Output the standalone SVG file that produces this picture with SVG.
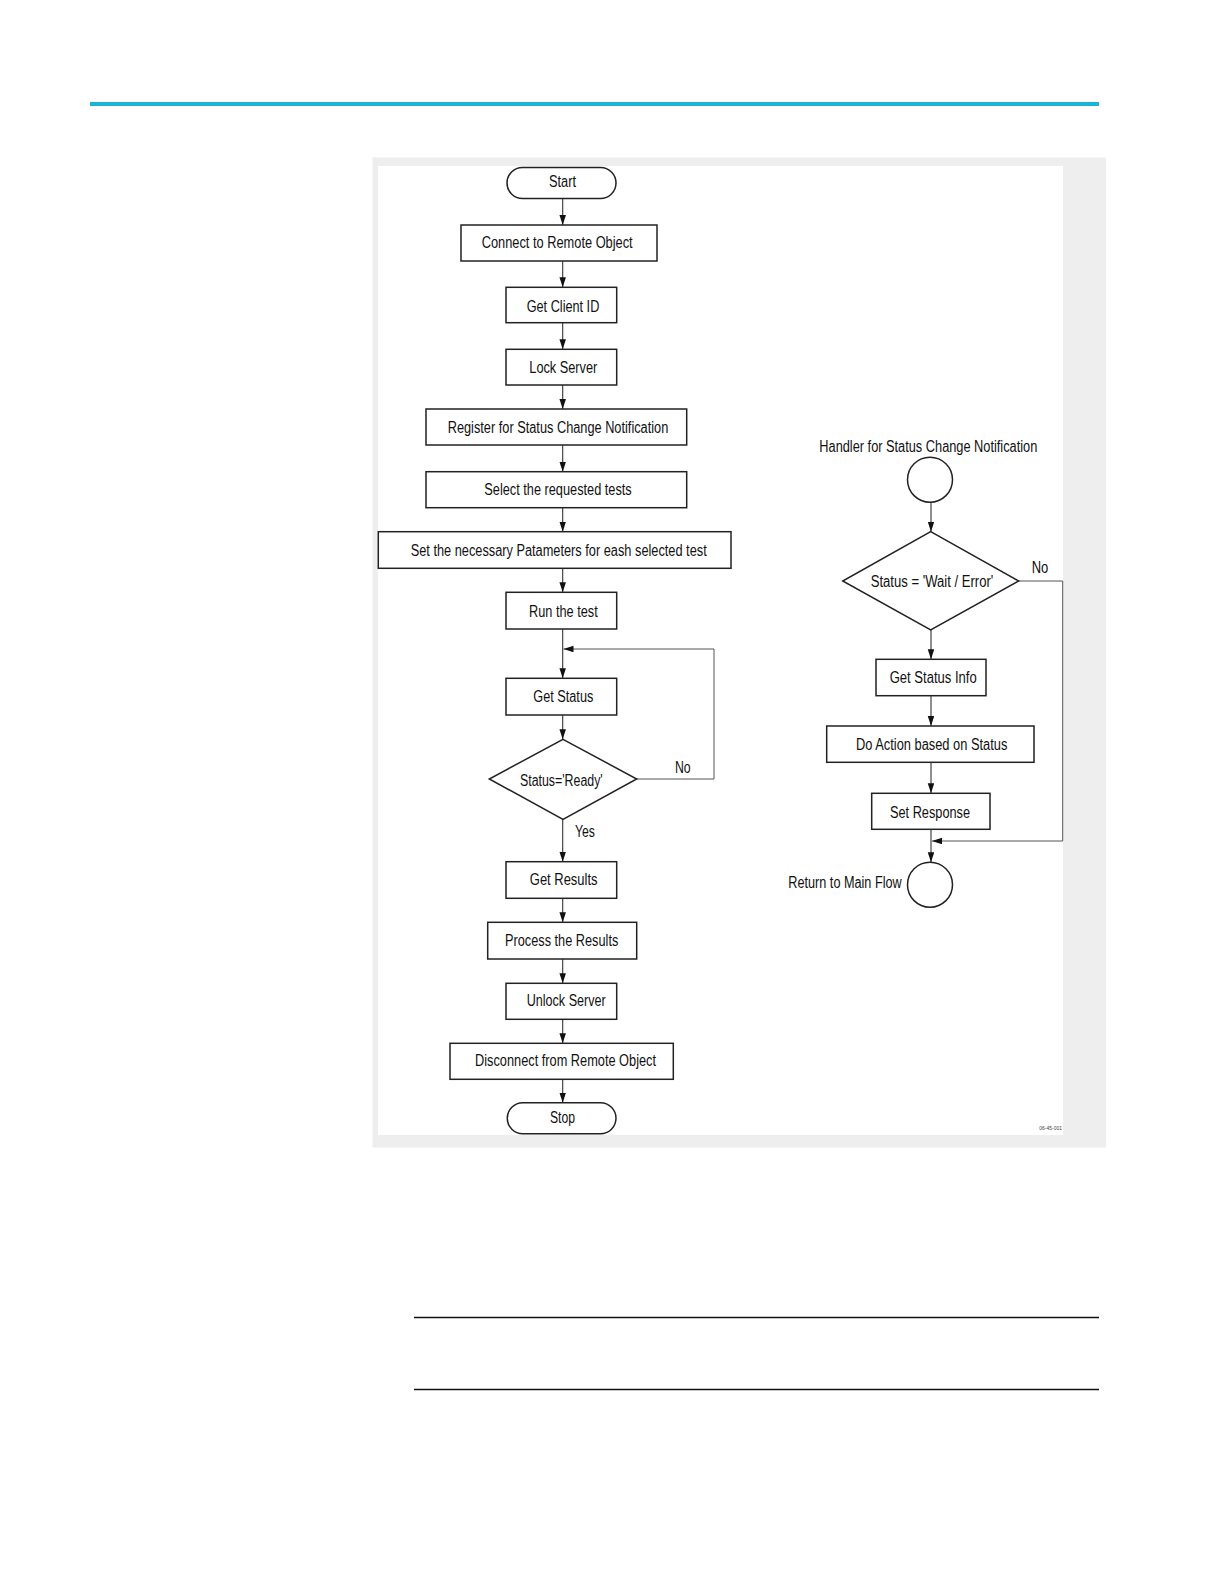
<svg xmlns="http://www.w3.org/2000/svg" width="1225" height="1585" viewBox="0 0 1225 1585">
<style>
.box{fill:#fff;stroke:#222;stroke-width:1.5}
.t{font-family:"Liberation Sans",Arial,sans-serif;font-size:16px;fill:#111}
.c{stroke:#333;stroke-width:1.1;fill:none}
.lp{stroke:#555;stroke-width:1;fill:none}
</style>
<defs>
<marker id="ah" markerUnits="userSpaceOnUse" markerWidth="11" markerHeight="8" refX="10" refY="3.25" orient="auto">
<path d="M0,0 L10,3.25 L0,6.5 Z" fill="#111"/>
</marker>
</defs>
<rect width="1225" height="1585" fill="#fff"/>
<line x1="90" y1="104" x2="1099" y2="104" stroke="#1bb3d6" stroke-width="4"/>
<rect x="372.5" y="157.5" width="733.5" height="990" fill="#eeeeee"/>
<rect x="378" y="166" width="685" height="969" fill="#fff"/>
<line x1="414" y1="1317.5" x2="1099" y2="1317.5" stroke="#111" stroke-width="1.3"/>
<line x1="414" y1="1389.5" x2="1099" y2="1389.5" stroke="#111" stroke-width="1.3"/>
<text x="1062" y="1130" font-family="Liberation Sans,Arial,sans-serif" font-size="5" text-anchor="end" fill="#444">06-45-001</text>

<g id="connectors">
<line class="c" x1="562.7" y1="198.5" x2="562.7" y2="225" marker-end="url(#ah)"/>
<line class="c" x1="562.7" y1="261" x2="562.7" y2="287.3" marker-end="url(#ah)"/>
<line class="c" x1="562.7" y1="322.7" x2="562.7" y2="349.3" marker-end="url(#ah)"/>
<line class="c" x1="562.7" y1="385" x2="562.7" y2="409" marker-end="url(#ah)"/>
<line class="c" x1="562.7" y1="445" x2="562.7" y2="471.7" marker-end="url(#ah)"/>
<line class="c" x1="562.7" y1="507.7" x2="562.7" y2="531.7" marker-end="url(#ah)"/>
<line class="c" x1="562.7" y1="568.3" x2="562.7" y2="592.3" marker-end="url(#ah)"/>
<line class="c" x1="562.7" y1="629" x2="562.7" y2="678.3" marker-end="url(#ah)"/>
<line class="c" x1="562.7" y1="715" x2="562.7" y2="739.3" marker-end="url(#ah)"/>
<polyline class="lp" points="636.7,779 714,779 714,649 563.5,649" marker-end="url(#ah)"/>
<line class="c" x1="562.7" y1="819.3" x2="562.7" y2="861.7" marker-end="url(#ah)"/>
<line class="c" x1="562.7" y1="898.3" x2="562.7" y2="922.3" marker-end="url(#ah)"/>
<line class="c" x1="562.7" y1="959" x2="562.7" y2="983.3" marker-end="url(#ah)"/>
<line class="c" x1="562.7" y1="1019.3" x2="562.7" y2="1043.3" marker-end="url(#ah)"/>
<line class="c" x1="562.7" y1="1079.3" x2="562.7" y2="1102.7" marker-end="url(#ah)"/>

<line class="c" x1="931" y1="502.2" x2="931" y2="531.7" marker-end="url(#ah)"/>
<line class="c" x1="931" y1="630" x2="931" y2="659.3" marker-end="url(#ah)"/>
<line class="c" x1="931" y1="695.7" x2="931" y2="726" marker-end="url(#ah)"/>
<line class="c" x1="931" y1="762.3" x2="931" y2="793.3" marker-end="url(#ah)"/>
<line class="c" x1="931" y1="829.3" x2="931" y2="862.2" marker-end="url(#ah)"/>
<polyline class="lp" points="1018.7,581 1062.7,581 1062.7,841 932,841" marker-end="url(#ah)"/>
</g>

<g id="start"><rect class="box" x="507" y="167.5" width="109" height="31" rx="15.5"/><text class="t" x="549" y="187" textLength="27" lengthAdjust="spacingAndGlyphs">Start</text></g>
<g id="connect"><rect class="box" x="461" y="225" width="196" height="36"/><text class="t" x="481.7" y="248" textLength="151" lengthAdjust="spacingAndGlyphs">Connect to Remote Object</text></g>
<g id="getclient"><rect class="box" x="506" y="287.3" width="110.7" height="35.4"/><text class="t" x="526.7" y="311.7" textLength="72.6" lengthAdjust="spacingAndGlyphs">Get Client ID</text></g>
<g id="lock"><rect class="box" x="506" y="349.3" width="110.7" height="35.7"/><text class="t" x="529.3" y="373.3" textLength="68" lengthAdjust="spacingAndGlyphs">Lock Server</text></g>
<g id="register"><rect class="box" x="426" y="409" width="260.7" height="36"/><text class="t" x="447.7" y="433" textLength="220.6" lengthAdjust="spacingAndGlyphs">Register for Status Change Notification</text></g>
<g id="select"><rect class="box" x="426" y="471.7" width="260.7" height="36"/><text class="t" x="484.3" y="494.7" textLength="147.4" lengthAdjust="spacingAndGlyphs">Select the requested tests</text></g>
<g id="setparams"><rect class="box" x="378.3" y="531.7" width="352.7" height="36.6"/><text class="t" x="410.7" y="556" textLength="296" lengthAdjust="spacingAndGlyphs">Set the necessary Patameters for eash selected test</text></g>
<g id="run"><rect class="box" x="506" y="592.3" width="110.7" height="36.7"/><text class="t" x="529" y="616.7" textLength="68.7" lengthAdjust="spacingAndGlyphs">Run the test</text></g>
<g id="getstatus"><rect class="box" x="506" y="678.3" width="110.7" height="36.7"/><text class="t" x="533.3" y="702" textLength="60" lengthAdjust="spacingAndGlyphs">Get Status</text></g>
<g id="ready"><polygon class="box" points="563,739.3 636.7,779 563,819.3 489.3,779"/><text class="t" x="520" y="786" textLength="82.7" lengthAdjust="spacingAndGlyphs">Status='Ready'</text></g>
<g id="lbl-no1"><text class="t" x="675" y="772.7" textLength="15.7" lengthAdjust="spacingAndGlyphs">No</text></g>
<g id="lbl-yes"><text class="t" x="575" y="836.7" textLength="20" lengthAdjust="spacingAndGlyphs">Yes</text></g>
<g id="getresults"><rect class="box" x="506" y="861.7" width="110.7" height="36.6"/><text class="t" x="529.8" y="885.3" textLength="67.7" lengthAdjust="spacingAndGlyphs">Get Results</text></g>
<g id="process"><rect class="box" x="487.7" y="922.3" width="149" height="36.7"/><text class="t" x="505" y="945.5" textLength="113.3" lengthAdjust="spacingAndGlyphs">Process the Results</text></g>
<g id="unlock"><rect class="box" x="506" y="983.3" width="110.7" height="36"/><text class="t" x="526.7" y="1005.5" textLength="79" lengthAdjust="spacingAndGlyphs">Unlock Server</text></g>
<g id="disconnect"><rect class="box" x="450" y="1043.3" width="223.3" height="36"/><text class="t" x="475" y="1065.5" textLength="181" lengthAdjust="spacingAndGlyphs">Disconnect from Remote Object</text></g>
<g id="stop"><rect class="box" x="507.3" y="1102.7" width="108.7" height="31" rx="15.5"/><text class="t" x="550" y="1123.3" textLength="25" lengthAdjust="spacingAndGlyphs">Stop</text></g>

<g id="handler-label"><text class="t" x="819.3" y="451.7" textLength="218" lengthAdjust="spacingAndGlyphs">Handler for Status Change Notification</text></g>
<g id="handler-circle"><circle class="box" cx="930" cy="479.7" r="22.5"/></g>
<g id="waiterror"><polygon class="box" points="930.7,531.7 1018.7,581 930.7,630 842.7,581"/><text class="t" x="870.7" y="587" textLength="122.6" lengthAdjust="spacingAndGlyphs">Status = 'Wait / Error'</text></g>
<g id="lbl-no2"><text class="t" x="1031.7" y="573.3" textLength="16.6" lengthAdjust="spacingAndGlyphs">No</text></g>
<g id="getstatusinfo"><rect class="box" x="876" y="659.3" width="110" height="36.4"/><text class="t" x="889.7" y="683" textLength="87" lengthAdjust="spacingAndGlyphs">Get Status Info</text></g>
<g id="doaction"><rect class="box" x="826.7" y="726" width="207.3" height="36.3"/><text class="t" x="856" y="750" textLength="151.3" lengthAdjust="spacingAndGlyphs">Do Action based on Status</text></g>
<g id="setresponse"><rect class="box" x="871.7" y="793.3" width="118.3" height="36"/><text class="t" x="890" y="818.3" textLength="80" lengthAdjust="spacingAndGlyphs">Set Response</text></g>
<g id="return-circle"><circle class="box" cx="930" cy="884.7" r="22.5"/></g>
<g id="return-label"><text class="t" x="788.3" y="888.3" textLength="113.4" lengthAdjust="spacingAndGlyphs">Return to Main Flow</text></g>
</svg>
